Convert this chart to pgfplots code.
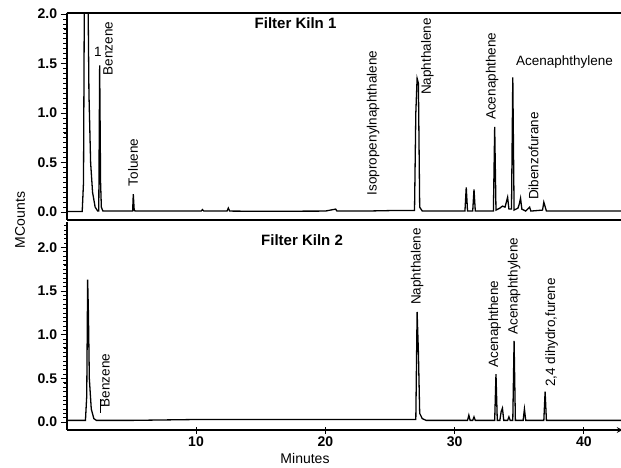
\documentclass[border=0pt]{standalone}
\usepackage{pgfplots}
\pgfplotsset{compat=1.18}
\usepackage{fontspec}
\setmainfont{Liberation Sans}

% Kiln 1 chromatogram (minutes, MCounts)
\pgfplotstableread{
t y
0.0 0.005
1.20 0.005
1.30 0.30
1.38 2.60
1.62 2.60
1.72 1.20
1.85 0.50
2.00 0.20
2.20 0.05
2.40 0.01
2.48 0.01
2.55 1.48
2.62 0.30
2.68 0.05
2.80 0.01
5.10 0.01
5.15 0.18
5.22 0.02
5.30 0.01
8.00 0.01
10.4 0.01
10.5 0.025
10.6 0.01
12.4 0.01
12.5 0.04
12.6 0.01
15.0 0.008
20.0 0.01
20.8 0.03
20.9 0.01
23.0 0.01
25.0 0.015
26.9 0.015
27.0 1.00
27.1 1.35
27.2 1.30
27.3 0.05
27.5 0.01
30.8 0.01
30.9 0.25
31.0 0.01
31.4 0.01
31.5 0.23
31.6 0.01
33.0 0.01
33.1 0.86
33.2 0.02
33.5 0.04
33.7 0.06
33.9 0.05
34.1 0.15
34.2 0.03
34.4 0.03
34.5 1.36
34.6 0.02
34.9 0.04
35.0 0.08
35.1 0.14
35.2 0.03
35.5 0.01
35.8 0.05
35.9 0.01
36.8 0.02
36.9 0.10
37.1 0.01
38.0 0.01
40.0 0.01
43.0 0.01
}\kilnone

% Kiln 2 chromatogram (minutes, MCounts)
\pgfplotstableread{
t y
0.0 0.02
1.45 0.02
1.55 0.30
1.62 1.63
1.68 1.25
1.75 0.50
1.90 0.15
2.10 0.04
2.30 0.02
5.00 0.02
10.0 0.03
20.0 0.03
27.0 0.03
27.1 1.26
27.2 0.80
27.3 0.10
27.5 0.04
27.8 0.02
31.0 0.02
31.1 0.08
31.2 0.02
31.4 0.02
31.5 0.06
31.6 0.02
33.1 0.02
33.2 0.55
33.3 0.02
33.5 0.02
33.6 0.12
33.7 0.16
33.8 0.02
34.1 0.02
34.2 0.06
34.3 0.02
34.5 0.02
34.6 0.93
34.7 0.02
35.3 0.02
35.4 0.15
35.5 0.02
36.9 0.02
37.0 0.35
37.1 0.02
40.0 0.02
43.0 0.02
}\kilntwo

\tikzset{
  lab/.style={font=\fontsize{13.5}{16}\selectfont, rotate=90, anchor=west, inner sep=0pt},
  hlab/.style={font=\fontsize{13.5}{16}\selectfont, inner sep=0pt},
  ttl/.style={font=\bfseries\fontsize{15}{17}\selectfont},
}

% graduation marks along the left axis, from 0 up to a given top value
\newcommand{\ygrad}[1]{%
  \foreach \v in {0.05,0.1,...,#1}
    \draw[line width=0.6pt] (axis cs:0,\v) -- ++(-3pt,0pt);
  \foreach \v in {0,0.5,1,1.5,2}
    \draw[line width=0.9pt] (axis cs:0,\v) -- ++(-6pt,0pt);
}

\pgfplotsset{
  chrom/.style={
    scale only axis, width=556pt, anchor=south west,
    xmin=0, xmax=43,
    axis y line=left, axis line style={-, line width=1.6pt},
    tick align=outside,
    major tick length=6pt, minor tick length=3.5pt,
    every tick/.style={draw=black, line width=0.9pt},
    every minor tick/.style={draw=black, line width=0.7pt},
    ytick={0,0.5,1,1.5,2}, minor y tick num=9,
    tick label style={font=\bfseries\fontsize{14}{16}\selectfont},
    /pgf/number format/assume math mode=true,
    yticklabel style={/pgf/number format/.cd, fixed, fixed zerofill, precision=1},
  },
}

\begin{document}
\begin{tikzpicture}
\path[use as bounding box] (0pt,0pt) rectangle (621pt,468pt);

% Kiln 1
\begin{axis}[chrom, at={(66.7pt,248pt)}, height=207pt,
  ymin=-0.08, ymax=2.01, axis x line=box, xtick=\empty,
  after end axis/.code={
    \ygrad{2.0}
    \node[ttl] at (axis cs:17.7,1.91) {Filter Kiln 1};
    \node[hlab] at (axis cs:2.42,1.62) {1};
    \node[lab] at (axis cs:3.2,1.38) {Benzene};
    \node[lab] at (axis cs:5.13,0.26) {Toluene};
    \node[lab] at (axis cs:23.7,0.17) {Isopropenylnaphthalene};
    \node[lab] at (axis cs:27.9,1.18) {Naphthalene};
    \node[lab] at (axis cs:32.9,0.93) {Acenaphthene};
    \node[hlab] at (axis cs:38.5,1.52) {Acenaphthylene};
    \node[lab] at (axis cs:36.1,0.12) {Dibenzofurane};
  }]
\addplot[black, line width=1.3pt] table[x=t,y=y] {\kilnone};
\end{axis}

% Kiln 2
\begin{axis}[chrom, at={(66.7pt,38pt)}, height=208pt,
  ymin=-0.09, ymax=2.29, axis x line=bottom,
  xtick={10,20,30,40}, minor x tick num=0,
  after end axis/.code={
    \ygrad{2.26}
    \foreach \m in {10,20,30,40}
      \draw[line width=0.9pt] (axis cs:\m,-0.09) -- ++(0pt,-4pt);
    \node[ttl] at (axis cs:18.2,2.08) {Filter Kiln 2};
    \draw[line width=0.8pt] (axis cs:2.6,0.11) -- (axis cs:2.6,0.27)
      (axis cs:2.6,0.19) -- (axis cs:2.85,0.19);
    \node[lab] at (axis cs:2.97,0.17) {Benzene};
    \node[lab] at (axis cs:27.1,1.34) {Naphthalene};
    \node[lab] at (axis cs:33.1,0.62) {Acenaphthene};
    \node[lab] at (axis cs:34.6,1.00) {Acenaphthylene};
    \node[lab] at (axis cs:37.5,0.40) {2,4 dihydro,furene};
  }]
\addplot[black, line width=1.3pt] table[x=t,y=y] {\kilntwo};
\end{axis}

\node[rotate=90, font=\fontsize{14}{16}\selectfont] at (20pt,248pt) {MCounts};
\node[font=\fontsize{14}{16}\selectfont] at (305pt,10pt) {Minutes};
\end{tikzpicture}
\end{document}
